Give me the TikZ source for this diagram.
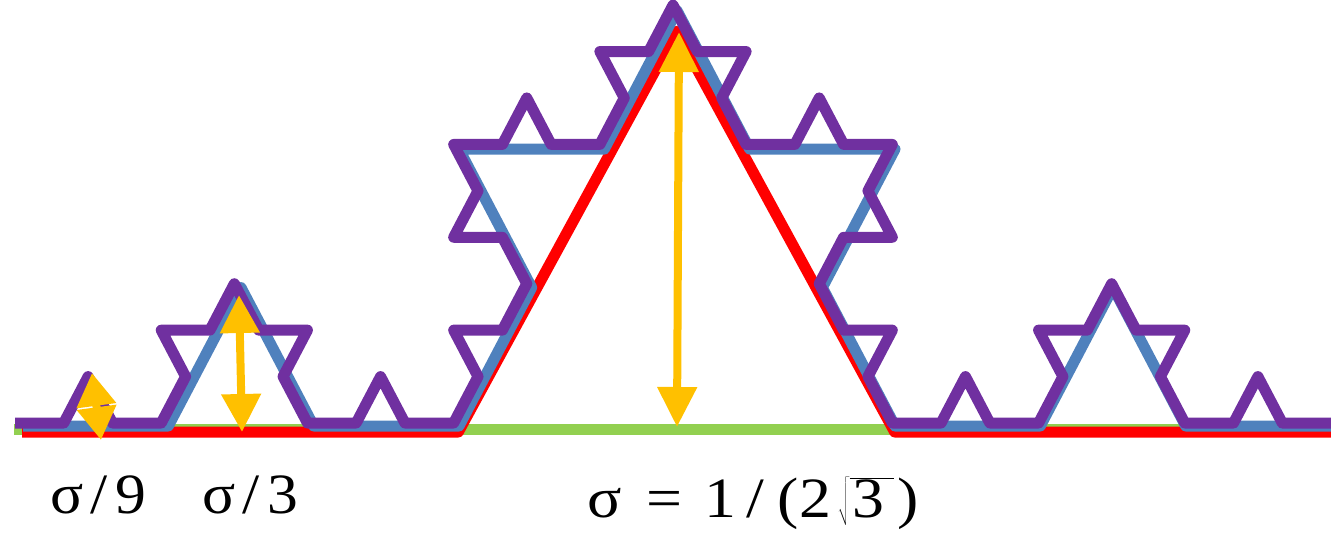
\documentclass[tikz,border=0pt]{standalone}
\usepackage{fontspec}
\setmainfont{Liberation Serif}
\usetikzlibrary{arrows.meta}
\definecolor{kgreen}{HTML}{92D050}
\definecolor{kred}{HTML}{FF0000}
\definecolor{kblue}{HTML}{4F81BD}
\definecolor{kpurple}{HTML}{7030A0}
\definecolor{kyellow}{HTML}{FFC000}
\newcommand\widetxt[2][1.08]{\scalebox{#1}[1]{#2}}

\begin{document}
\begin{tikzpicture}[x=1pt,y=-1pt,
 koch/.style={line width=#1,line join=round},
 hgt/.style={kyellow,line width=8pt,{Triangle[width=38pt,length=#1]}-{Triangle[width=38pt,length=#1]}},
 lbl/.style={anchor=base west,inner sep=0pt,font=\fontsize{57}{60}\selectfont}]
\useasboundingbox (0,0) rectangle (1331,536);
\draw[kgreen,koch=11pt] (14,429) -- (1331,429);
\foreach \lev/\col/\xo/\yo/\ys/\len in {1/kred/22/432/1.06/1309,2/kblue/23/426/1.1/1308,3/kpurple/15/423/1.1/1316} {
 \pgfmathtruncatemacro\nseg{4^\lev-1}
 \draw[\col,koch=11pt,shift={(\xo,\yo)},yscale=-\ys] (0,0)
  \foreach \i [evaluate=\i as \ang using {60*((mod(\i,4)==1)-(mod(\i,4)==2)+(mod(floor(\i/4),4)==1)-(mod(floor(\i/4),4)==2)+(floor(\i/16)==1)-(floor(\i/16)==2))}] in {0,...,\nseg} { -- ++(\ang:\len/3^\lev) };
}
\coordinate (top) at (679,32);
\coordinate (foot) at (677,427);
\draw[hgt=40pt] (top) -- (foot);
\coordinate (top3) at (239,295);
\coordinate (foot3) at (242,432);
\draw[hgt=38pt] (top3) -- (foot3);
\coordinate (top9) at (92,373);
\coordinate (foot9) at (101,440);
\draw[hgt=33pt] (top9) -- (foot9);
\node[lbl] (s9) at (50,513) {\widetxt{σ\kern7pt/\kern7pt9}};
\node[lbl] (s3) at (202,513) {\widetxt{σ\kern7pt/\kern7pt3}};
\node[lbl] (s) at (587,517) {\widetxt[1.12]{σ\kern22pt=\kern20pt1\kern9pt/\kern12pt(2\kern6pt$\sqrt{\mbox{\rule[-8pt]{0pt}{46pt}\kern3pt3\kern8pt}}$\kern3pt)}};
\end{tikzpicture}
\end{document}
